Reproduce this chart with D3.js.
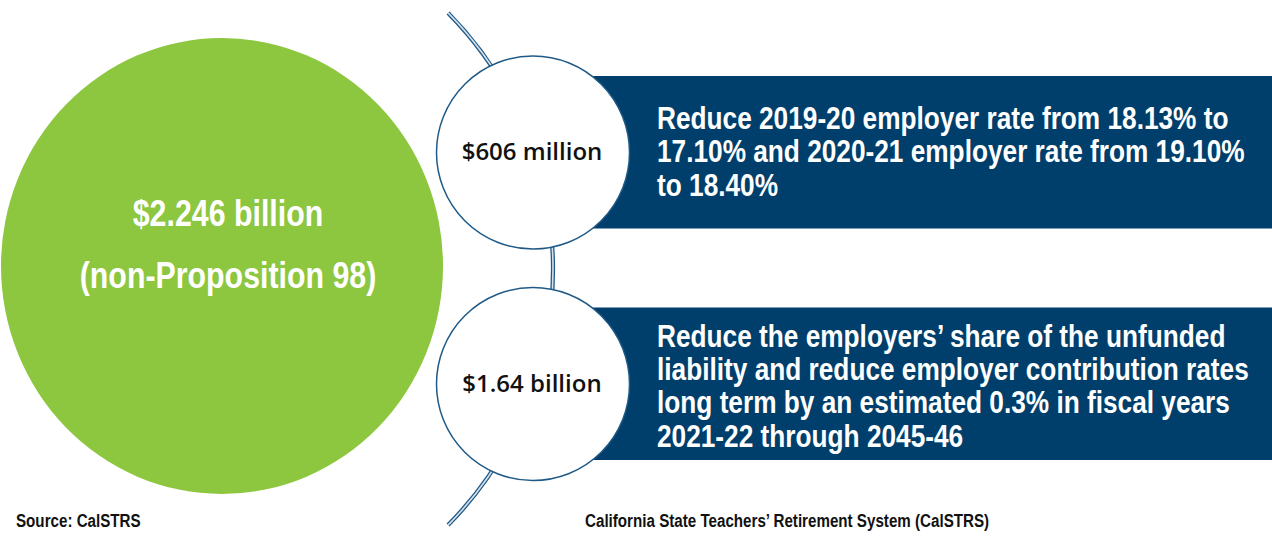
<!DOCTYPE html>
<html>
<head>
<meta charset="utf-8">
<script src="https://cdn.jsdelivr.net/npm/d3@7"></script>
<style>
  html, body { margin: 0; padding: 0; background: #ffffff; }
  svg { display: block; }
</style>
</head>
<body>
<svg id="chart" width="1272" height="540"></svg>
<script>
// Total funding and how it is split
const totalLines = ["$2.246 billion", "(non-Proposition 98)"];
const amountLabels = ["$606 million", "$1.64 billion"];
const amountValues = [606, 1640];   // millions of dollars
const descriptions = [
  ["Reduce 2019-20 employer rate from 18.13% to",
   "17.10% and 2020-21 employer rate from 19.10%",
   "to 18.40%"],
  ["Reduce the employers\u2019 share of the unfunded",
   "liability and reduce employer contribution rates",
   "long term by an estimated 0.3% in fiscal years",
   "2021-22 through 2045-46"]
];
const footerLeft = "Source: CalSTRS";
const footerRight = "California State Teachers\u2019 Retirement System (CalSTRS)";

const W = 1272, H = 540;
const navy = "#003f6b";
const green = "#8dc63f";
const ring = "#1f5a87";
// Narrow face: Liberation Sans squeezed horizontally
const sans = "'Liberation Sans', Arial, sans-serif";
const squeeze = 0.82;

const svg = d3.select("#chart");

function narrowText(sel, x, y, size, anchor, fill) {
  return sel
    .attr("transform", (d, i) => `translate(${typeof x === "function" ? x(d, i) : x},${typeof y === "function" ? y(d, i) : y}) scale(${squeeze},1)`)
    .attr("text-anchor", anchor)
    .attr("fill", fill)
    .attr("font-family", sans)
    .attr("font-weight", "bold")
    .attr("font-size", size);
}

// Row layout for the two allocations
const rowY = d3.scalePoint().domain(amountLabels).range([152.5, 384]);
const circleR = 96.5;
const circleX = 533;

// Big green ellipse for the total
const total = svg.append("g");
total.append("ellipse")
  .attr("cx", 222).attr("cy", 266)
  .attr("rx", 221).attr("ry", 228)
  .attr("fill", green);
narrowText(total.selectAll("text").data(totalLines).join("text"),
    228, (d, i) => 226 + i * 62, 37, "middle", "#ffffff")
  .text(d => d);

// Navy description bands
const bands = svg.append("g");
bands.selectAll("rect").data(amountLabels).join("rect")
  .attr("x", circleX)
  .attr("y", d => rowY(d) - 76.5)
  .attr("width", W - circleX)
  .attr("height", 152.5)
  .attr("fill", navy);

// Connector arc (double line) running behind the circles
const arcCx = 188, arcCy = 269, arcR = 365;
const a0 = Math.atan2(13 - arcCy, 448 - arcCx);
const a1 = Math.atan2(525 - arcCy, 448 - arcCx);
const arcPath = d3.arc()
  .innerRadius(arcR).outerRadius(arcR)
  .startAngle(a0 + Math.PI / 2).endAngle(a1 + Math.PI / 2);
const connector = svg.append("g").attr("transform", `translate(${arcCx},${arcCy})`);
connector.append("path").attr("d", arcPath())
  .attr("fill", "none").attr("stroke", ring).attr("stroke-width", 4.2)
  .attr("stroke-linecap", "round");
connector.append("path").attr("d", arcPath())
  .attr("fill", "none").attr("stroke", "#d6e0ea").attr("stroke-width", 1.6);

// Amount circles
const rows = svg.selectAll("g.row").data(amountLabels).join("g").attr("class", "row");
rows.append("circle")
  .attr("cx", circleX)
  .attr("cy", d => rowY(d))
  .attr("r", circleR)
  .attr("fill", "#ffffff")
  .attr("stroke", ring)
  .attr("stroke-width", 1.5);
rows.append("text")
  .attr("x", circleX - 1)
  .attr("y", d => rowY(d) + 7.5)
  .attr("text-anchor", "middle")
  .attr("fill", "#111111")
  .attr("font-family", "'Open Sans', sans-serif")
  .attr("font-weight", 600)
  .attr("font-size", 24)
  .text(d => d);

// Description text
rows.each(function (d, i) {
  const lines = descriptions[i];
  const top = rowY(d) - 76.5;
  const startY = i === 0 ? top + 53 : top + 39;
  narrowText(d3.select(this).selectAll("text.desc").data(lines).join("text").attr("class", "desc"),
      657, (l, j) => startY + j * 33.4, 32, "start", "#ffffff")
    .text(l => l);
});

// Footer
narrowText(svg.append("text").datum(footerLeft), 16, 527, 18.5, "start", "#111111").text(d => d);
narrowText(svg.append("text").datum(footerRight), 585, 527, 18.5, "start", "#111111").text(d => d);
</script>
</body>
</html>
